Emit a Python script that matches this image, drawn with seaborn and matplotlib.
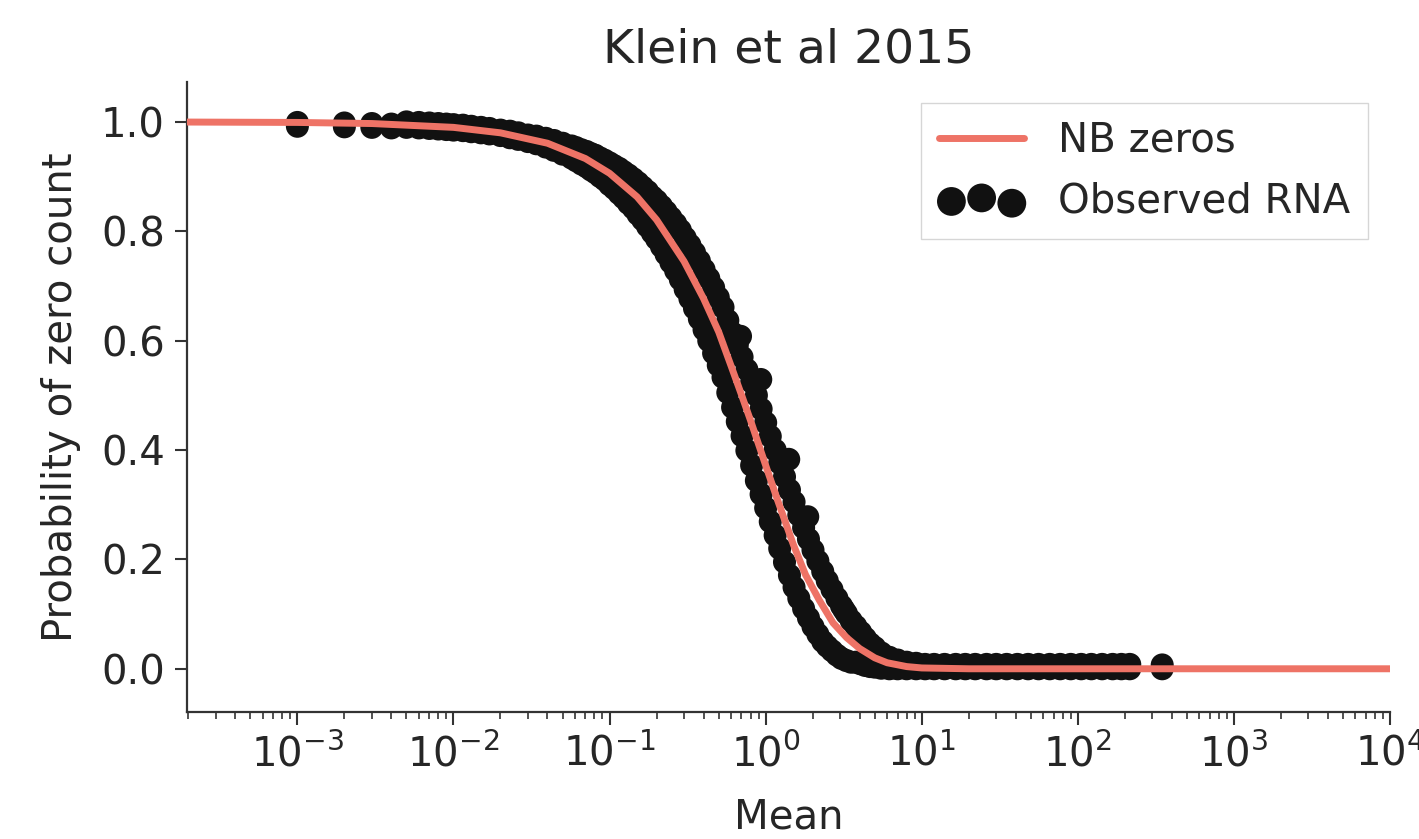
import numpy as np
import pandas as pd
import matplotlib
matplotlib.use("Agg")
import matplotlib.pyplot as plt
import seaborn as sns

# ---- NB zeros curve ----
nb_mean = [1e-4, 1e-3, 0.003, 0.01, 0.02, 0.04, 0.07, 0.1, 0.15, 0.2, 0.3, 0.4, 0.5,
           0.6, 0.7, 0.8, 1.0, 1.2, 1.5, 1.8, 2.2, 2.7, 3.3, 4.0, 5.0, 6.0, 8.0, 10,
           20, 100, 1000, 10000]
nb_p = [1.000, 0.999, 0.997, 0.990, 0.980, 0.961, 0.933, 0.906, 0.863, 0.821, 0.745,
        0.677, 0.616, 0.554, 0.501, 0.454, 0.372, 0.306, 0.228, 0.172, 0.126, 0.084,
        0.057, 0.037, 0.020, 0.011, 0.004, 0.0015, 0.0, 0.0, 0.0, 0.0]

# ---- Observed RNA ----
# isolated genes at the two ends
iso_mean = [0.001, 0.001, 0.002, 0.002, 0.003, 0.003, 0.004, 0.004, 347, 347]
iso_p = [0.999, 0.992, 0.998, 0.991, 0.997, 0.990, 0.996, 0.989, 0.007, 0.000]

# the dense band of genes: upper and lower edge of the cloud at each mean
band_mean = [0.005, 0.006, 0.007, 0.008, 0.009, 0.010, 0.0115, 0.013, 0.015, 0.017,
             0.02, 0.023, 0.026, 0.03, 0.034, 0.039, 0.044, 0.05,
             0.057, 0.061, 0.066, 0.071, 0.076, 0.081, 0.087, 0.093, 0.1, 0.107,
             0.115, 0.123, 0.132, 0.142, 0.152, 0.163, 0.175, 0.188, 0.2, 0.215,
             0.23, 0.247, 0.265, 0.284, 0.305, 0.327, 0.35, 0.376, 0.403, 0.432,
             0.464, 0.497, 0.533, 0.572, 0.614, 0.658, 0.706, 0.758, 0.813, 0.872,
             0.935, 1.0, 1.07, 1.15, 1.23, 1.32, 1.42, 1.52, 1.63, 1.75, 1.88, 2.01,
             2.16, 2.32, 2.48, 2.66, 2.86, 3.06, 3.29, 3.53, 3.78, 4.06, 4.35, 4.67,
             5.0, 5.5, 6.2, 7.0, 8.0, 9.2,
             10.5, 12, 14, 16.5, 19, 22, 26, 30, 35, 41, 48, 56, 66, 77, 90, 105,
             122, 143, 167, 190, 215]
band_p_upper = [1.000, 0.999, 0.998, 0.997, 0.996, 0.995, 0.994, 0.992, 0.990, 0.988,
                0.985, 0.983, 0.980, 0.976, 0.974, 0.970, 0.966, 0.961,
                0.956, 0.953, 0.949, 0.946, 0.942, 0.939, 0.934, 0.930, 0.925, 0.920,
                0.915, 0.909, 0.903, 0.896, 0.889, 0.881, 0.873, 0.863, 0.856, 0.846,
                0.836, 0.825, 0.814, 0.802, 0.788, 0.775, 0.761, 0.746, 0.730, 0.714,
                0.697, 0.679, 0.661, 0.637, 0.614, 0.592, 0.570, 0.547, 0.524, 0.500,
                0.475, 0.450, 0.425, 0.400, 0.376, 0.351, 0.327, 0.305, 0.281, 0.258,
                0.237, 0.217, 0.197, 0.178, 0.161, 0.145, 0.129, 0.115, 0.101, 0.088,
                0.078, 0.067, 0.056, 0.046, 0.039, 0.029, 0.021, 0.016, 0.012, 0.010,
                0.008, 0.008, 0.008, 0.008, 0.008, 0.008, 0.008, 0.008, 0.008, 0.008,
                0.008, 0.008, 0.008, 0.008, 0.008, 0.008, 0.008, 0.008, 0.008, 0.008,
                0.008]
band_p_lower = [0.990, 0.989, 0.988, 0.987, 0.986, 0.985, 0.984, 0.982, 0.980, 0.978,
                0.975, 0.971, 0.968, 0.964, 0.960, 0.954, 0.948, 0.941,
                0.934, 0.929, 0.923, 0.918, 0.912, 0.907, 0.900, 0.894, 0.885, 0.878,
                0.869, 0.861, 0.851, 0.842, 0.831, 0.821, 0.809, 0.797, 0.786, 0.772,
                0.758, 0.743, 0.728, 0.712, 0.694, 0.677, 0.659, 0.640, 0.620, 0.600,
                0.577, 0.555, 0.533, 0.505, 0.478, 0.452, 0.426, 0.399, 0.372, 0.344,
                0.319, 0.294, 0.269, 0.244, 0.220, 0.195, 0.171, 0.149, 0.129, 0.110,
                0.093, 0.077, 0.063, 0.050, 0.041, 0.033, 0.025, 0.019, 0.015, 0.012,
                0.012, 0.009, 0.006, 0.004, 0.003, 0.001, 0.000, 0.000, 0.000, 0.000,
                0.000, 0.000, 0.000, 0.000, 0.000, 0.000, 0.000, 0.000, 0.000, 0.000,
                0.000, 0.000, 0.000, 0.000, 0.000, 0.000, 0.000, 0.000, 0.000, 0.000,
                0.000]

# a few genes sticking out on the right of the band
out_mean = [0.69, 0.93, 1.405, 1.86, 3.17]
out_p = [0.608, 0.529, 0.383, 0.278, 0.108]

title = "Klein et al 2015"
xlabel = "Mean"
ylabel = "Probability of zero count"
line_label = "NB zeros"
obs_label = "Observed RNA"

sns.set_theme(style="ticks")
plt.rcParams["font.family"] = ["DejaVu Sans"]

fig = plt.figure(figsize=(14.19, 8.39), dpi=100)
ax = fig.add_axes([0.1318, 0.1514, 0.9796 - 0.1318, 0.9023 - 0.1514])

obs_df = pd.concat([
    pd.DataFrame({"mean": iso_mean, "p": iso_p}),
    pd.DataFrame({"mean": band_mean, "p": band_p_upper}),
    pd.DataFrame({"mean": band_mean, "p": band_p_lower}),
    pd.DataFrame({"mean": out_mean, "p": out_p}),
], ignore_index=True)
nb_df = pd.DataFrame({"mean": nb_mean, "p": nb_p})

sns.scatterplot(data=obs_df, x="mean", y="p", ax=ax, color="#111111", s=275,
                edgecolor="none", linewidth=0, label=obs_label, zorder=2)
sns.lineplot(data=nb_df, x="mean", y="p", ax=ax, color="#ee7366", linewidth=5,
             label=line_label, zorder=3, sort=False)

ax.set_xscale("log")
ax.set_xlim(10 ** -3.707, 1e4)
ax.set_ylim(-0.079, 1.073)
ax.set_yticks([0.0, 0.2, 0.4, 0.6, 0.8, 1.0])
ax.set_yticklabels(["0.0", "0.2", "0.4", "0.6", "0.8", "1.0"])
ax.xaxis.set_major_locator(matplotlib.ticker.FixedLocator([1e-3, 1e-2, 1e-1, 1, 10, 100, 1e3, 1e4]))
ax.xaxis.set_minor_locator(matplotlib.ticker.LogLocator(base=10, subs=np.arange(2, 10), numticks=100))
ax.xaxis.set_major_formatter(matplotlib.ticker.LogFormatterSciNotation())

ax.tick_params(axis="both", which="major", labelsize=29, length=9, width=1.5,
               color="#333333", pad=7)
ax.tick_params(axis="x", which="minor", length=5, width=1.2, color="#333333")
for sp in ["left", "bottom"]:
    ax.spines[sp].set_linewidth(1.6)
    ax.spines[sp].set_color("#333333")
sns.despine(ax=ax)

ax.set_title(title, fontsize=34, pad=14)
ax.set_xlabel(xlabel, fontsize=29, labelpad=16)
ax.set_ylabel(ylabel, fontsize=29, labelpad=14)

handles, labels = ax.get_legend_handles_labels()
order = [labels.index(line_label), labels.index(obs_label)]
leg = ax.legend([handles[i] for i in order], [labels[i] for i in order],
                loc="upper right", bbox_to_anchor=(0.982, 0.967), fontsize=29,
                frameon=True, fancybox=False, edgecolor="#cccccc",
                scatterpoints=3, scatteryoffsets=[0.375, 0.5, 0.3125],
                markerscale=1.25,
                handlelength=2.1, handletextpad=0.85, borderpad=0.45,
                labelspacing=0.5, borderaxespad=0)

fig.savefig("out.png", dpi=100)
